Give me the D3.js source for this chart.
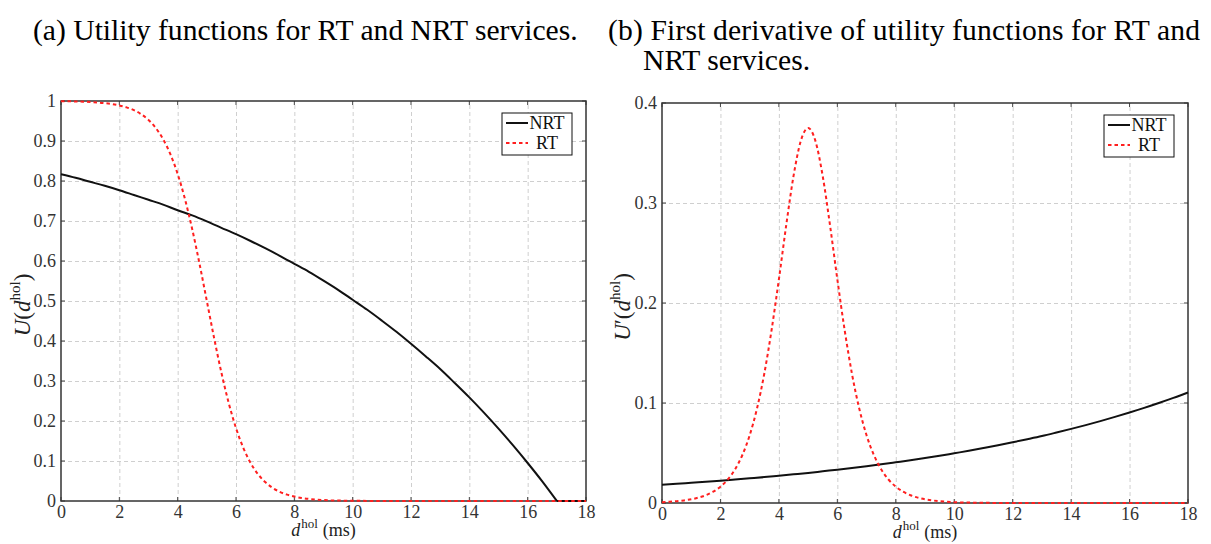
<!DOCTYPE html>
<html>
<head>
<meta charset="utf-8">
<script src="https://cdn.jsdelivr.net/npm/d3@7"></script>
<style>
  body { margin: 0; background: #fff; }
  svg { display: block; }
  text { font-family: "Liberation Serif", "Times New Roman", serif; }
</style>
</head>
<body>
<svg id="chart" width="1211" height="544"></svg>
<script>
// ---- data -------------------------------------------------------------
const delayTicks = [0, 2, 4, 6, 8, 10, 12, 14, 16, 18];
const utilityTicks = [0, 0.1, 0.2, 0.3, 0.4, 0.5, 0.6, 0.7, 0.8, 0.9, 1];
const derivativeTicks = [0, 0.1, 0.2, 0.3, 0.4];
const utilityTickLabels = ["0", "0.1", "0.2", "0.3", "0.4", "0.5", "0.6", "0.7", "0.8", "0.9", "1"];
const derivativeTickLabels = ["0", "0.1", "0.2", "0.3", "0.4"];

// NRT service (sampled every 0.5 ms)
const nrtDelay = [0, 0.5, 1, 1.5, 2, 2.5, 3, 3.5, 4, 4.5, 5, 5.5, 6, 6.5, 7, 7.5, 8, 8.5, 9, 9.5,
  10, 10.5, 11, 11.5, 12, 12.5, 13, 13.5, 14, 14.5, 15, 15.5, 16, 16.5, 17, 17.5, 18];
const nrtUtility = [0.817, 0.808, 0.798, 0.788, 0.777, 0.765, 0.753, 0.741, 0.727, 0.714,
  0.699, 0.683, 0.667, 0.650, 0.632, 0.613, 0.593, 0.573, 0.551, 0.528,
  0.503, 0.478, 0.451, 0.423, 0.393, 0.362, 0.330, 0.295, 0.259, 0.221,
  0.181, 0.139, 0.095, 0.049, 0, 0, 0];
const nrtDerivative = [0.0183, 0.0192, 0.0202, 0.0212, 0.0223, 0.0235, 0.0247, 0.0259, 0.0273, 0.0287,
  0.0301, 0.0317, 0.0333, 0.0350, 0.0368, 0.0387, 0.0407, 0.0427, 0.0449, 0.0472,
  0.0497, 0.0522, 0.0549, 0.0577, 0.0607, 0.0638, 0.0670, 0.0705, 0.0741, 0.0779,
  0.0819, 0.0861, 0.0905, 0.0951, 0.1000, 0.1051, 0.1105];

// RT service (finer sampling around the steep part)
const rtDelay = [0, 0.25, 0.5, 0.75, 1, 1.25, 1.5, 1.75, 2, 2.25, 2.5, 2.75, 3, 3.25, 3.5, 3.75,
  4, 4.25, 4.5, 4.75, 5, 5.25, 5.5, 5.75, 6, 6.25, 6.5, 6.75, 7, 7.25, 7.5, 7.75,
  8, 8.25, 8.5, 8.75, 9, 9.25, 9.5, 9.75, 10, 11, 12, 13, 14, 15, 16, 17, 18];
const rtUtility = [0.9994, 0.9992, 0.9988, 0.9983, 0.9975, 0.9964, 0.9948, 0.9924, 0.9890, 0.9841,
  0.9770, 0.9669, 0.9526, 0.9325, 0.9047, 0.8670, 0.8176, 0.7549, 0.6792, 0.5927,
  0.5, 0.4073, 0.3208, 0.2451, 0.1824, 0.1330, 0.0953, 0.0675, 0.0474, 0.0331,
  0.0230, 0.0159, 0.0110, 0.0076, 0.0052, 0.0036, 0.0025, 0.0017, 0.0012, 0.0008,
  0.0006, 0.0001, 0, 0, 0, 0, 0, 0, 0];
const rtDerivative = [0.0008, 0.0012, 0.0018, 0.0026, 0.0037, 0.0054, 0.0078, 0.0113, 0.0163, 0.0235,
  0.0337, 0.0480, 0.0677, 0.0944, 0.1293, 0.1730, 0.2237, 0.2776, 0.3268, 0.3621,
  0.375, 0.3621, 0.3268, 0.2776, 0.2237, 0.1730, 0.1293, 0.0944, 0.0677, 0.0480,
  0.0337, 0.0235, 0.0163, 0.0113, 0.0078, 0.0054, 0.0037, 0.0026, 0.0018, 0.0012,
  0.0008, 0.0002, 0, 0, 0, 0, 0, 0, 0];

const seriesNames = ["NRT", "RT"];

// ---- drawing ----------------------------------------------------------
const SERIF = "'Liberation Serif', 'Times New Roman', serif";
const svg = d3.select("#chart");
const NRT_COLOR = "#111";
const RT_COLOR = "#ff1f1f";

// Split a series where it first reaches zero: smooth curve before, straight after
// (keeps the sharp corner where a clipped utility meets the axis).
function seriesPaths(xs, ys) {
  const pts = d3.zip(xs, ys);
  const k = ys.findIndex(v => v === 0);
  if (k <= 0) return [{ pts, curve: d3.curveMonotoneX }];
  return [
    { pts: pts.slice(0, k + 1), curve: d3.curveMonotoneX },
    { pts: pts.slice(k), curve: d3.curveLinear }
  ];
}

function drawPanel(cfg) {
  const { left, right, top, bottom } = cfg.box;
  const x = d3.scaleLinear().domain([0, 18]).range([left, right]);
  const y = d3.scaleLinear().domain(cfg.yDomain).range([bottom, top]);
  const g = svg.append("g");

  // dashed grid
  g.append("g")
    .attr("transform", `translate(0,${bottom})`)
    .call(d3.axisBottom(x).tickValues(delayTicks.slice(1, -1)).tickSize(-(bottom - top)).tickFormat(""))
    .call(s => s.select(".domain").remove())
    .call(s => s.selectAll("line").attr("stroke", "#cfcfcf").attr("stroke-dasharray", "4,3"));
  g.append("g")
    .attr("transform", `translate(${left},0)`)
    .call(d3.axisLeft(y).tickValues(cfg.yTicks.slice(1, -1)).tickSize(-(right - left)).tickFormat(""))
    .call(s => s.select(".domain").remove())
    .call(s => s.selectAll("line").attr("stroke", "#cfcfcf").attr("stroke-dasharray", "4,3"));

  // tick labels
  const xAxis = g.append("g")
    .attr("transform", `translate(0,${bottom})`)
    .call(d3.axisBottom(x).tickValues(delayTicks).tickSize(0).tickPadding(4).tickFormat(d => String(d)));
  xAxis.select(".domain").remove();
  xAxis.selectAll("text").attr("font-size", 18).attr("fill", "#333").style("font-family", SERIF);

  const yAxis = g.append("g")
    .attr("transform", `translate(${left},0)`)
    .call(d3.axisLeft(y).tickValues(cfg.yTicks).tickSize(0).tickPadding(5)
      .tickFormat((d, i) => cfg.yTickLabels[i]));
  yAxis.select(".domain").remove();
  yAxis.selectAll("text").attr("font-size", 18).attr("fill", "#333").style("font-family", SERIF);

  // small inward tick marks on all four sides
  const tickG = g.append("g").attr("stroke", "#444").attr("stroke-width", 1);
  delayTicks.forEach(d => {
    tickG.append("line").attr("x1", x(d)).attr("x2", x(d)).attr("y1", bottom).attr("y2", bottom - 4);
    tickG.append("line").attr("x1", x(d)).attr("x2", x(d)).attr("y1", top).attr("y2", top + 4);
  });
  cfg.yTicks.forEach(v => {
    tickG.append("line").attr("x1", left).attr("x2", left + 4).attr("y1", y(v)).attr("y2", y(v));
    tickG.append("line").attr("x1", right).attr("x2", right - 4).attr("y1", y(v)).attr("y2", y(v));
  });

  // frame
  g.append("rect")
    .attr("x", left).attr("y", top)
    .attr("width", right - left).attr("height", bottom - top)
    .attr("fill", "none").attr("stroke", "#333").attr("stroke-width", 1.5);

  // curves
  const drawSeries = (xs, ys, color, dash) => {
    seriesPaths(xs, ys).forEach(seg => {
      const line = d3.line().x(d => x(d[0])).y(d => y(d[1])).curve(seg.curve);
      g.append("path")
        .datum(seg.pts)
        .attr("d", line)
        .attr("fill", "none").attr("stroke", color).attr("stroke-width", 2)
        .attr("stroke-dasharray", dash);
    });
  };
  drawSeries(nrtDelay, cfg.nrt, NRT_COLOR, null);
  // RT drawn as one dashed path so the dash pattern runs continuously
  g.append("path")
    .datum(d3.zip(rtDelay, cfg.rt))
    .attr("d", d3.line().x(d => x(d[0])).y(d => y(d[1])).curve(d3.curveMonotoneX))
    .attr("fill", "none").attr("stroke", RT_COLOR).attr("stroke-width", 2)
    .attr("stroke-dasharray", "3.5,3");

  // x-axis label: d^hol (ms)
  const xl = g.append("text")
    .attr("x", (left + right) / 2).attr("y", bottom + 35)
    .attr("text-anchor", "middle").attr("font-size", 18).attr("fill", "#222")
    .style("font-family", SERIF);
  xl.append("tspan").attr("font-style", "italic").text("d");
  xl.append("tspan").attr("font-size", 13).attr("dy", -8).attr("dx", 1).text("hol");
  xl.append("tspan").attr("dy", 8).attr("dx", 5).text("(ms)");

  // y-axis label: U(d^hol) or U'(d^hol)
  const cy = (top + bottom) / 2 + 4;
  const yl = g.append("text")
    .attr("transform", `translate(${cfg.yLabelX},${cy}) rotate(-90)`)
    .attr("text-anchor", "middle").attr("font-size", 23).attr("fill", "#222")
    .style("font-family", SERIF);
  yl.append("tspan").attr("font-style", "italic").text("U");
  if (cfg.prime) yl.append("tspan").text("′");
  yl.append("tspan").text("(");
  yl.append("tspan").attr("font-style", "italic").text("d");
  yl.append("tspan").attr("font-size", 15).attr("dy", -10).text("hol");
  yl.append("tspan").attr("dy", 10).text(")");

  // legend
  const lx = right - 84, ly = top + 12;
  const lg = g.append("g");
  lg.append("rect").attr("x", lx).attr("y", ly).attr("width", 70).attr("height", 42)
    .attr("fill", "#fff").attr("stroke", "#111").attr("stroke-width", 1);
  const entries = [
    { name: seriesNames[0], color: NRT_COLOR, dash: null },
    { name: seriesNames[1], color: RT_COLOR, dash: "3.5,3" }
  ];
  entries.forEach((e, i) => {
    const ey = ly + 10 + i * 20;
    lg.append("line").attr("x1", lx + 4).attr("x2", lx + 26).attr("y1", ey).attr("y2", ey)
      .attr("stroke", e.color).attr("stroke-width", 2)
      .attr("stroke-dasharray", e.dash);
    lg.append("text").attr("x", lx + 45).attr("y", ey + 6)
      .attr("text-anchor", "middle").attr("font-size", 18).attr("fill", "#111")
      .style("font-family", SERIF).text(e.name);
  });
}

drawPanel({
  box: { left: 61, right: 586, top: 101, bottom: 501 },
  yDomain: [0, 1], yTicks: utilityTicks, yTickLabels: utilityTickLabels,
  nrt: nrtUtility, rt: rtUtility, yLabelX: 30, prime: false
});
drawPanel({
  box: { left: 662, right: 1188, top: 103, bottom: 503 },
  yDomain: [0, 0.4], yTicks: derivativeTicks, yTickLabels: derivativeTickLabels,
  nrt: nrtDerivative, rt: rtDerivative, yLabelX: 630, prime: true
});

// sub-figure captions; font size chosen so caption (a) spans its column
const capA = svg.append("text").attr("x", 33).attr("y", 40).attr("font-size", 26).attr("fill", "#000")
  .style("font-family", SERIF)
  .text("(a) Utility functions for RT and NRT services.");
const capSize = 26 * 545 / capA.node().getComputedTextLength();
capA.attr("font-size", capSize);
svg.append("text").attr("x", 608).attr("y", 40).attr("font-size", capSize).attr("fill", "#000")
  .style("font-family", SERIF)
  .attr("textLength", 592).attr("lengthAdjust", "spacing")
  .text("(b) First derivative of utility functions for RT and");
svg.append("text").attr("x", 643).attr("y", 70).attr("font-size", capSize).attr("fill", "#000")
  .style("font-family", SERIF)
  .text("NRT services.");
</script>
</body>
</html>
